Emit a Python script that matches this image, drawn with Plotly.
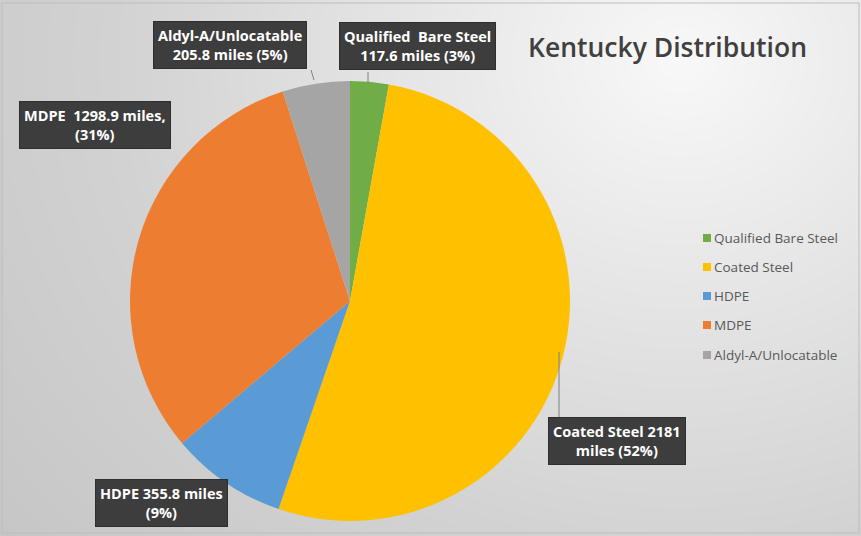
import numpy as np
import plotly.graph_objects as go

W, H = 861, 536

categories = ["Qualified Bare Steel", "Coated Steel", "HDPE", "MDPE", "Aldyl-A/Unlocatable"]
miles = [117.6, 2181, 355.8, 1298.9, 205.8]
colors = ["#70AD47", "#FFC000", "#5B9BD5", "#ED7D31", "#A5A5A5"]
label_texts = [
    "Qualified  Bare Steel<br>117.6 miles (3%)",
    "Coated Steel 2181<br>miles (52%)",
    "HDPE 355.8 miles<br>(9%)",
    "MDPE  1298.9 miles,<br>(31%)",
    "Aldyl-A/Unlocatable<br>205.8 miles (5%)",
]
title_text = "Kentucky Distribution"

# layout constants (pixels)
label_pos = [(417, 46), (617, 441), (161, 503), (95, 125), (230, 45)]
leader_lines = [((368, 72), (368, 83)), ((559, 352), (559, 418)), None, None, ((311, 70), (314, 80))]

def px(x):
    return x / W

def py(y):
    return 1 - y / H

fig = go.Figure()

# background radial gradient
gx = np.linspace(0, 1, 120)
gy = np.linspace(0, 1, 80)
X, Y = np.meshgrid(gx * W, (1 - gy) * H)
D = np.sqrt((X - 680) ** 2 + ((Y - 60) * 1.15) ** 2)
fig.add_trace(go.Heatmap(
    x=gx, y=gy, z=D, showscale=False, hoverinfo="skip",
    colorscale=[[0, "#f8f8f8"], [0.3, "#e6e6e6"], [0.65, "#d2d2d2"], [1, "#c6c6c6"]],
    zsmooth="best",
))

fig.add_trace(go.Pie(
    labels=categories, values=miles, sort=False, direction="clockwise", rotation=0,
    marker=dict(colors=colors, line=dict(width=0)), textinfo="none", showlegend=False,
    hoverinfo="label+value+percent",
    domain=dict(x=[px(130), px(570)], y=[py(521), py(81)]),
))

shapes = []
annotations = []
for i, txt in enumerate(label_texts):
    cx, cy = label_pos[i]
    annotations.append(dict(x=px(cx), y=py(cy), xref="paper", yref="paper", text=txt, showarrow=False,
                            xanchor="center", yanchor="middle", borderpad=4, align="center",
                            bgcolor="#3d3d3d", bordercolor="#2e2e2e", borderwidth=1,
                            font=dict(family="Open Sans", size=14.5, color="white", weight="bold")))
    ln = leader_lines[i]
    if ln:
        (x0, y0), (x1, y1) = ln
        shapes.append(dict(type="line", xref="paper", yref="paper", x0=px(x0), y0=py(y0),
                           x1=px(x1), y1=py(y1), line=dict(color="#7f7f7f", width=1)))

annotations.append(dict(x=px(667), y=py(47), xref="paper", yref="paper", text=title_text,
                        showarrow=False, xanchor="center", yanchor="middle",
                        font=dict(family="Open Sans", size=26.5, color="#404040", weight=600)))

# legend panel
shapes.append(dict(type="rect", xref="paper", yref="paper", x0=px(698), x1=px(856), y0=py(224), y1=py(370),
                   fillcolor="rgba(245,245,245,0.35)", line=dict(width=0), layer="below"))
leg_y = [238, 267, 296, 325, 355]
for i, cat in enumerate(categories):
    yy = leg_y[i]
    shapes.append(dict(type="rect", xref="paper", yref="paper", x0=px(703), x1=px(711),
                       y0=py(yy + 4), y1=py(yy - 4), fillcolor=colors[i], line=dict(width=0)))
    annotations.append(dict(x=px(712), y=py(yy), xref="paper", yref="paper", text=cat,
                            showarrow=False, xanchor="left", yanchor="middle",
                            font=dict(family="Open Sans", size=13.5, color="#595959")))

# frame
shapes.append(dict(type="rect", xref="paper", yref="paper", x0=px(2), x1=px(859), y0=py(533), y1=py(3),
                   line=dict(color="#bdbdbd", width=1), fillcolor="rgba(0,0,0,0)"))

fig.update_layout(
    width=W, height=H, margin=dict(l=0, r=0, t=0, b=0),
    paper_bgcolor="white", plot_bgcolor="white",
    xaxis=dict(visible=False, range=[0, 1], domain=[0, 1], fixedrange=True),
    yaxis=dict(visible=False, range=[0, 1], domain=[0, 1], fixedrange=True),
    shapes=shapes, annotations=annotations, showlegend=False,
)

fig.write_html("out.html")
